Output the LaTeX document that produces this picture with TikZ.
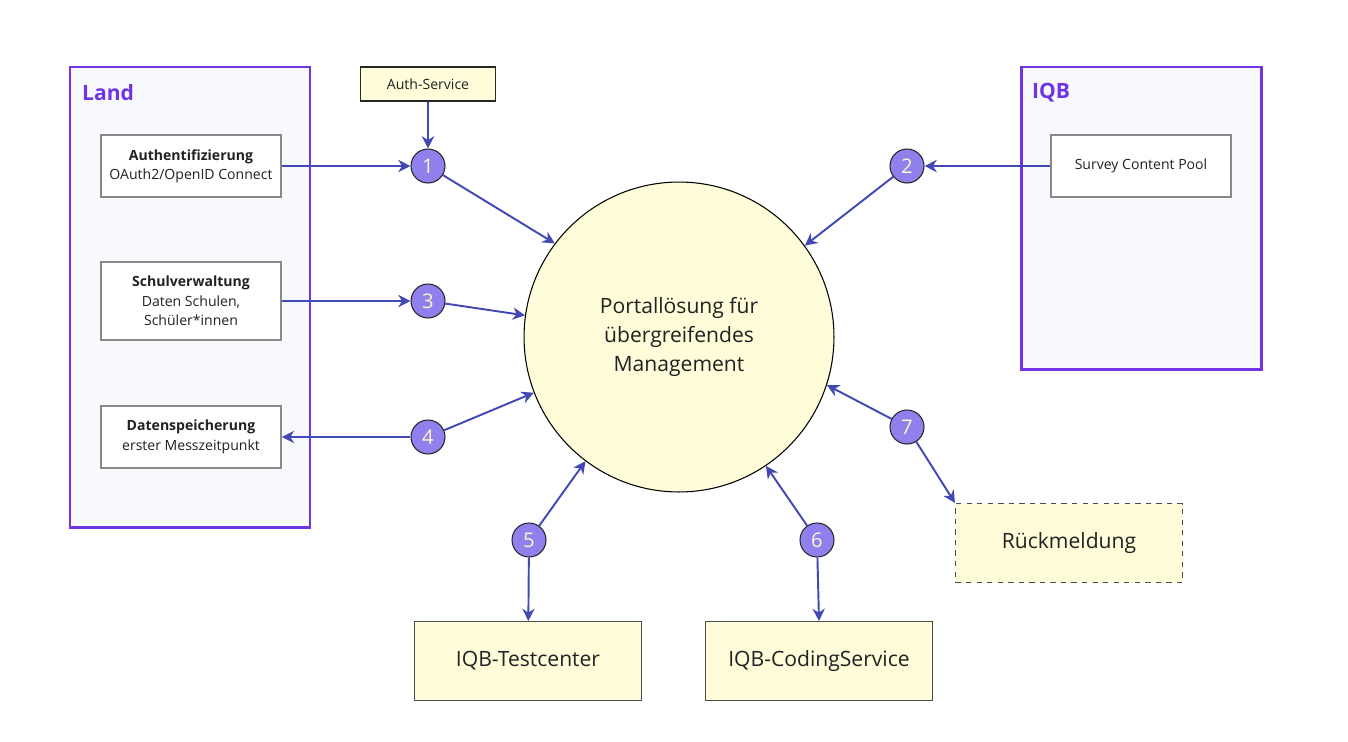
\documentclass[tikz,border=0pt]{standalone}
\usepackage{fontspec}
\setmainfont{Open Sans}
\usepackage{xcolor}
\usepackage{tikz}
\usetikzlibrary{arrows.meta}
\definecolor{grpurple}{RGB}{112, 52, 226}
\definecolor{grfill}{RGB}{248, 249, 253}
\definecolor{boxyellow}{RGB}{255, 252, 218}
\definecolor{numfill}{RGB}{144, 128, 238}
\definecolor{numtext}{RGB}{255, 246, 200}
\definecolor{flowblue}{RGB}{66, 72, 180}
\definecolor{boxgrey}{RGB}{136, 136, 136}
\definecolor{txtdark}{RGB}{34, 34, 34}

\tikzset{
  group/.style={draw=grpurple, fill=grfill, line width=1.7pt},
  grouplabel/.style={anchor=west, text=grpurple, font=\fontsize{12}{14}\selectfont\bfseries},
  sysbox/.style={draw=boxgrey, fill=white, line width=1pt, minimum width=3.6cm, align=center, text=txtdark, font=\fontsize{8}{11}\selectfont},
  svcbox/.style={draw=black!70, fill=boxyellow, line width=0.6pt, minimum width=4.54cm, minimum height=1.58cm, text=txtdark, font=\fontsize{12}{14}\selectfont},
  numnode/.style={circle, draw=black!85, fill=numfill, line width=0.6pt, minimum size=0.68cm, inner sep=0pt, text=numtext, font=\fontsize{11.5}{13}\selectfont},
  flow/.style={flowblue, line width=1.1pt, -{Stealth[length=7pt, width=7pt]}}
}

\begin{document}
\begin{tikzpicture}[x=0.02cm, y=-0.02cm]
\useasboundingbox (0,0) rectangle (1348,741);

% Land
\draw[group] (70,67) rectangle (310,527);
\node[grouplabel] (land) at (76,93) {Land};
\node[sysbox, minimum height=1.24cm] (auth) at (191,166) {\textbf{Authentifizierung}\\OAuth2/OpenID Connect};
\node[sysbox, minimum height=1.56cm] (schul) at (191,301) {\textbf{Schulverwaltung}\\Daten Schulen,\\Schüler*innen};
\node[sysbox, minimum height=1.24cm] (daten) at (191,437) {\textbf{Datenspeicherung}\\erster Messzeitpunkt};

% IQB
\draw[group] (1021,67) rectangle (1261,369);
\node[grouplabel] (iqb) at (1026,93) {IQB};
\node[sysbox, minimum height=1.24cm] (pool) at (1141,166) {Survey Content Pool};

% Auth-Service
\node[draw=black!85, fill=boxyellow, line width=0.6pt, minimum width=2.7cm, minimum height=0.68cm, text=txtdark, font=\fontsize{8}{9}\selectfont] (authsvc) at (428,84) {Auth-Service};

% Portal
\node[circle, draw=black, fill=boxyellow, line width=0.6pt, minimum size=6.2cm, align=center, text=txtdark, font=\fontsize{12}{16.5}\selectfont] (portal) at (679,337) {Portallösung für\\übergreifendes\\Management};

% services
\node[svcbox] (testc) at (528,661) {IQB-Testcenter};
\node[svcbox] (coding) at (819,661) {IQB-CodingService};
\node[svcbox, dashed] (rueck) at (1069,543) {Rückmeldung};

% numbers
\node[numnode] (n1) at (428,166) {1};
\node[numnode] (n2) at (907,166) {2};
\node[numnode] (n3) at (428,301) {3};
\node[numnode] (n4) at (428,437) {4};
\node[numnode] (n5) at (529,540) {5};
\node[numnode] (n6) at (817,540) {6};
\node[numnode] (n7) at (907,427) {7};

% flows
\draw[flow] (authsvc) -- (n1);
\draw[flow] (auth) -- (n1);
\draw[flow] (n1) -- (portal.143);
\draw[flow] (pool) -- (n2);
\draw[flow] (n2) -- (portal.36);
\draw[flow] (schul) -- (n3);
\draw[flow] (n3) -- (portal.172);
\draw[flow] (n4) -- (daten);
\draw[flow] (n4) -- (portal.201);
\draw[flow] (n5) -- (portal.233);
\draw[flow] (n5) -- (testc);
\draw[flow] (n6) -- (portal.304);
\draw[flow] (n6) -- (coding.north);
\draw[flow] (n7) -- (portal.342);
\draw[flow] (n7) -- (rueck.north west);
\end{tikzpicture}
\end{document}
